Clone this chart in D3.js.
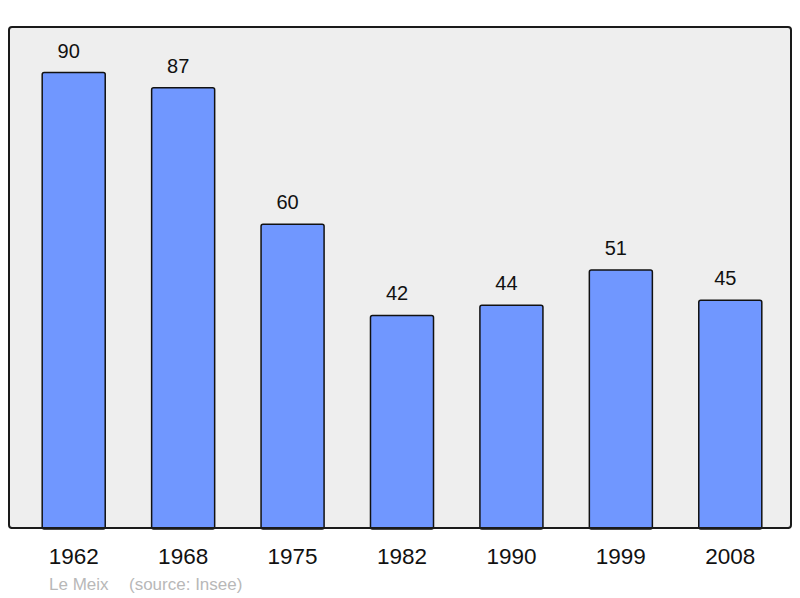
<!DOCTYPE html>
<html>
<head>
<meta charset="utf-8">
<script src="https://cdn.jsdelivr.net/npm/d3@7"></script>
<style>
  body { margin: 0; background: #fff; }
  svg { display: block; font-family: "Liberation Sans", Arial, sans-serif; }
</style>
</head>
<body>
<div id="chart"></div>
<script>
var years = ['1962', '1968', '1975', '1982', '1990', '1999', '2008'];
var population = [90, 87, 60, 42, 44, 51, 45];
var placeName = 'Le Meix';
var sourceText = '(source: Insee)';

var width = 800, height = 598;
var panel = { left: 9, top: 27, right: 791, bottom: 528 };

var svg = d3.select('#chart').append('svg')
  .attr('width', width)
  .attr('height', height);

// background panel
svg.append('rect')
  .attr('x', panel.left)
  .attr('y', panel.top)
  .attr('width', panel.right - panel.left)
  .attr('height', panel.bottom - panel.top)
  .attr('rx', 3)
  .attr('fill', '#eeeeee')
  .attr('stroke', '#1a1a1a')
  .attr('stroke-width', 2);

var x = d3.scaleBand()
  .domain(years)
  .range([19, 785])
  .paddingInner(0.424)
  .paddingOuter(0.212);

var y = d3.scaleLinear()
  .domain([0, 99])
  .range([panel.bottom, panel.top]);

var data = years.map(function(yr, i) { return { year: yr, value: population[i] }; });

svg.append('g').selectAll('rect')
  .data(data)
  .enter().append('rect')
  .attr('x', function(d) { return x(d.year); })
  .attr('y', function(d) { return y(d.value); })
  .attr('width', x.bandwidth())
  .attr('height', function(d) { return panel.bottom - y(d.value) + 1; })
  .attr('rx', 2)
  .attr('fill', '#7097ff')
  .attr('stroke', '#111')
  .attr('stroke-width', 1.5);

// redraw panel border bottom over bars
svg.append('line')
  .attr('x1', panel.left + 2).attr('x2', panel.right - 2)
  .attr('y1', panel.bottom).attr('y2', panel.bottom)
  .attr('stroke', '#1a1a1a')
  .attr('stroke-width', 2);

// value labels (sit a little left of the bar centre)
svg.append('g').selectAll('text')
  .data(data)
  .enter().append('text')
  .attr('x', function(d) { return x(d.year) + x.bandwidth() / 2 - 5; })
  .attr('y', function(d) { return y(d.value) - 15; })
  .attr('text-anchor', 'middle')
  .attr('font-size', 20)
  .attr('fill', '#111')
  .text(function(d) { return d.value; });

// year axis
var xAxis = d3.axisBottom(x).tickSize(0).tickPadding(0);
var axisG = svg.append('g')
  .attr('transform', 'translate(0,' + (panel.bottom + 36) + ')')
  .call(xAxis);
axisG.select('.domain').remove();
axisG.selectAll('text')
  .attr('font-size', 22.5)
  .attr('font-family', '"Liberation Sans", Arial, sans-serif')
  .attr('fill', '#111')
  .attr('dy', 0);

// caption
svg.append('text')
  .attr('x', 49)
  .attr('y', 590)
  .attr('font-size', 17)
  .attr('fill', '#b8b8b8')
  .text(placeName);
svg.append('text')
  .attr('x', 129)
  .attr('y', 590)
  .attr('font-size', 17)
  .attr('fill', '#b8b8b8')
  .text(sourceText);
</script>
</body>
</html>
